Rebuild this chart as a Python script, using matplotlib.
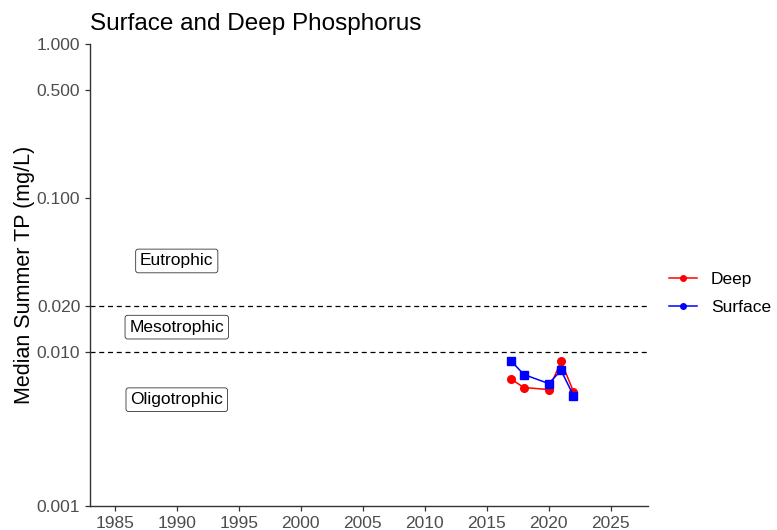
import matplotlib.pyplot as plt
from matplotlib.lines import Line2D
from matplotlib.ticker import FixedLocator, NullLocator

plt.rcParams["font.family"] = ["Liberation Sans", "DejaVu Sans"]

# datos
anios = [2017, 2018, 2020, 2021, 2022]
tp_profundo = [0.00663, 0.00588, 0.00570, 0.00869, 0.00553]
tp_superficie = [0.00869, 0.00714, 0.00624, 0.00759, 0.00521]

ticks_y = [0.001, 0.010, 0.020, 0.100, 0.500, 1.000]
ticks_x = [1985, 1990, 1995, 2000, 2005, 2010, 2015, 2020, 2025]
umbrales = [0.02, 0.01]
etiquetas_estado = ["Eutrophic", "Mesotrophic", "Oligotrophic"]
y_etiquetas = [0.039, 0.0145, 0.0049]
x_etiquetas = 1990

gris = "#4D4D4D"

fig = plt.figure(figsize=(7.77, 5.30), dpi=100)
ax = fig.add_axes([0.1158, 0.0453, 0.718, 0.8717])

ax.plot(anios, tp_profundo, color="red", marker="o", markersize=5.5, linewidth=1.1, label="Deep")
ax.plot(anios, tp_superficie, color="blue", marker="s", markersize=5.5, linewidth=1.1, label="Surface")

for u in umbrales:
    ax.axhline(u, color="black", linestyle=(0, (4, 3)), linewidth=0.9)

for texto, yv in zip(etiquetas_estado, y_etiquetas):
    ax.text(x_etiquetas, yv, texto, ha="center", va="center", fontsize=12.5,
            bbox=dict(boxstyle="round,pad=0.25,rounding_size=0.15", facecolor="white",
                      edgecolor="#333333", linewidth=0.6))

ax.set_yscale("log")
ax.set_ylim(0.001, 1.0)
ax.set_xlim(1983.0, 2028.0)
ax.yaxis.set_major_locator(FixedLocator(ticks_y))
ax.yaxis.set_minor_locator(NullLocator())
ax.set_yticklabels([f"{t:.3f}" for t in ticks_y])
ax.set_xticks(ticks_x)
ax.set_xticklabels([str(t) for t in ticks_x])

for lado in ["top", "right"]:
    ax.spines[lado].set_visible(False)
for lado in ["left", "bottom"]:
    ax.spines[lado].set_color("#333333")
    ax.spines[lado].set_linewidth(1.0)
ax.tick_params(axis="both", colors="#333333", labelcolor=gris, labelsize=12.5,
               direction="out", length=3.5, width=0.9)

ax.set_ylabel("Median Summer TP (mg/L)", fontsize=15.5, labelpad=1)
fig.text(0.1158, 0.955, "Surface and Deep Phosphorus", fontsize=17.5, ha="left", va="center")

manejadores = [
    Line2D([], [], color="red", marker="o", markersize=4, linewidth=1.1),
    Line2D([], [], color="blue", marker="o", markersize=4, linewidth=1.1),
]
fig.legend(manejadores, ["Deep", "Surface"], loc="center left", bbox_to_anchor=(0.841, 0.447),
           frameon=False, fontsize=12.5, handlelength=1.6, labelspacing=0.75)

fig.savefig("out.png", dpi=100)
